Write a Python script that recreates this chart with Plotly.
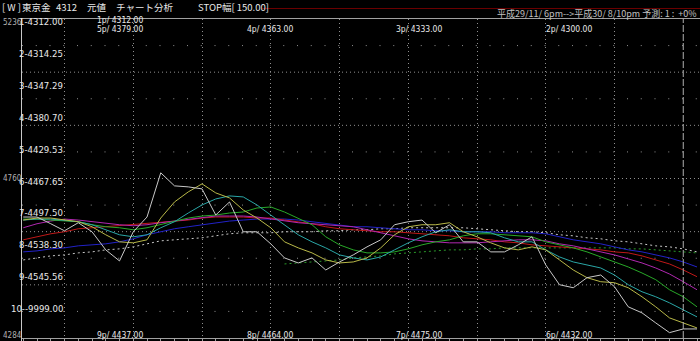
import plotly.graph_objects as go

# ---------------- data ----------------
x_idx = list(range(50))

price = [4645, 4645, 4625, 4604, 4628, 4601, 4547, 4514, 4601, 4645,
         4777, 4738, 4735, 4729, 4651, 4690, 4601, 4601, 4565, 4523,
         4508, 4523, 4487, 4511, 4532, 4556, 4577, 4622, 4631, 4636,
         4598, 4622, 4571, 4571, 4541, 4541, 4562, 4586, 4502, 4443,
         4434, 4464, 4472, 4437, 4377, 4359, 4329, 4300, 4311, 4311]

ma_yellow = [4636, 4642, 4642, 4636, 4631, 4616, 4592, 4571, 4568, 4577,
             4642, 4690, 4720, 4744, 4717, 4702, 4666, 4642, 4613, 4571,
             4553, 4538, 4517, 4508, 4511, 4523, 4553, 4592, 4616, 4622,
             4622, 4628, 4601, 4586, 4568, 4553, 4547, 4556, 4547, 4517,
             4487, 4464, 4452, 4449, 4434, 4407, 4377, 4344, 4329, 4314]

ma_cyan = [4636, 4639, 4639, 4636, 4631, 4622, 4607, 4592, 4586, 4592,
           4613, 4631, 4657, 4681, 4699, 4708, 4705, 4681, 4651, 4622,
           4592, 4571, 4553, 4532, 4523, 4517, 4526, 4547, 4568, 4586,
           4601, 4607, 4601, 4601, 4598, 4583, 4571, 4571, 4547, 4526,
           4511, 4502, 4493, 4472, 4443, 4422, 4407, 4389, 4368, 4347]

ma_green = [4639, 4639, 4636, 4633, 4631, 4622, 4616, 4613, 4607, 4613,
            4622, 4631, 4642, 4648, 4651, 4657, 4660, 4672, 4675, 4660,
            4642, 4622, 4586, 4562, 4547, 4538, 4538, 4541, 4550, 4562,
            4571, 4577, 4589, 4595, 4595, 4592, 4589, 4586, 4571, 4562,
            4553, 4541, 4526, 4511, 4496, 4478, 4458, 4428, 4407, 4377]

ma_magenta = [4613, 4625, 4633, 4639, 4636, 4631, 4625, 4622, 4619, 4622,
              4628, 4633, 4639, 4645, 4648, 4648, 4648, 4645, 4639, 4633,
              4628, 4625, 4622, 4619, 4616, 4607, 4598, 4589, 4580, 4574,
              4571, 4568, 4568, 4568, 4571, 4574, 4577, 4577, 4574, 4565,
              4559, 4550, 4541, 4532, 4520, 4508, 4493, 4475, 4452, 4428]

ma_red = [4577, 4586, 4595, 4601, 4610, 4613, 4616, 4619, 4622, 4625,
          4628, 4633, 4636, 4642, 4645, 4645, 4645, 4642, 4642, 4636,
          4631, 4625, 4616, 4610, 4607, 4604, 4601, 4601, 4598, 4595,
          4592, 4589, 4583, 4580, 4577, 4571, 4568, 4562, 4559, 4556,
          4553, 4550, 4547, 4541, 4538, 4529, 4517, 4505, 4487, 4467]

ma_blue = [4541, 4544, 4550, 4553, 4559, 4562, 4565, 4571, 4580, 4592,
           4601, 4610, 4616, 4622, 4628, 4633, 4636, 4639, 4639, 4639,
           4636, 4631, 4625, 4619, 4616, 4616, 4613, 4610, 4607, 4607,
           4604, 4604, 4601, 4601, 4601, 4598, 4598, 4598, 4595, 4586,
           4577, 4571, 4565, 4556, 4547, 4541, 4532, 4523, 4511, 4496]

ma_white_dot = [4517, 4523, 4529, 4532, 4538, 4541, 4547, 4550, 4556, 4565,
                4574, 4577, 4580, 4583, 4589, 4595, 4598, 4598, 4598, 4601,
                4601, 4601, 4604, 4604, 4607, 4607, 4610, 4610, 4613, 4613,
                4613, 4613, 4613, 4610, 4607, 4604, 4601, 4601, 4598, 4592,
                4589, 4583, 4580, 4574, 4571, 4565, 4559, 4556, 4550, 4541]

ma_green_dot = [None] * 19 + [4505, 4508, 4511, 4514, 4517, 4523, 4526, 4529, 4535, 4538,
                              4541, 4544, 4547, 4547, 4550, 4550, 4553, 4553, 4553, 4553,
                              4553, 4553, 4553, 4553, 4553, 4550, 4550, 4547, 4544, 4541,
                              4538]

y_min, y_max = 4284, 5236
y_tick_vals = [5236, 4760, 4284]

level_labels = ["1-4312.00", "2-4314.25", "3-4347.29", "4-4380.70", "5-4429.53",
                "6-4467.65", "7-4497.50", "8-4538.30", "9-4545.56", "10--9999.00"]
top_labels_row1 = ["1p/ 4312.00"]
top_labels_row2 = ["5p/ 4379.00", "4p/ 4363.00", "3p/ 4333.00", "2p/ 4300.00"]
bottom_labels = ["9p/ 4437.00", "8p/ 4464.00", "7p/ 4475.00", "6p/ 4432.00"]

header_parts = ["[ W ]", "東京金", "4312", "元値", "チャート分析", "STOP幅[ 150.00]"]
period_text = "平成29/11/ 6pm-->平成30/ 8/10pm 予測: 1 :  +0%"

# ---------------- geometry helpers ----------------
W, H = 700, 341
ML, MR, MT, MB = 22, 0, 19, 3
PW, PH = W - ML - MR, H - MT - MB


def px(p):
    return (p - ML) / PW


def py(p):
    return (H - MB - p) / PH


NARROW = "Liberation Sans Narrow, DejaVu Sans Condensed, Arial Narrow, DejaVu Sans Mono"
CJK = "Liberation Sans Narrow, Noto Sans CJK JP"

fig = go.Figure()

series = [
    (ma_white_dot, "#c8c8c8", "2px,3px"),
    (ma_green_dot, "#2a9a2a", "2px,3px"),
    (ma_blue, "#2222c8", "solid"),
    (ma_red, "#c01818", "solid"),
    (ma_magenta, "#b028b0", "solid"),
    (ma_green, "#28a828", "solid"),
    (ma_cyan, "#2aa6a6", "solid"),
    (ma_yellow, "#b8b848", "solid"),
    (price, "#c8c8c8", "solid"),
]
for vals, col, dash in series:
    fig.add_trace(go.Scatter(x=x_idx, y=vals, mode="lines",
                             line=dict(color=col, width=1, dash=dash),
                             hoverinfo="skip", showlegend=False, connectgaps=False))

shapes = []
# horizontal grid lines: 12 divisions, alternating dot densities
step = (y_max - y_min) / 12
for k in range(1, 12):
    yv = y_max - step * k
    dash = "1px,12.75px" if k % 2 == 1 else "1px,3px"
    shapes.append(dict(type="line", xref="paper", yref="y", x0=0, x1=1, y0=yv, y1=yv,
                       line=dict(color="#909090", width=1, dash=dash), layer="below"))
# current-position dashed marker
shapes.append(dict(type="line", xref="x", yref="paper", x0=48, x1=48, y0=0, y1=1,
                   line=dict(color="#b0b0b0", width=1, dash="7px,2px"), layer="above"))
# header red rule
shapes.append(dict(type="line", xref="paper", yref="paper", x0=px(262), x1=1,
                   y0=py(8.5), y1=py(8.5), line=dict(color="#6a0000", width=1)))
# left frame extends to bottom of window
shapes.append(dict(type="line", xref="paper", yref="paper", x0=px(21.5), x1=px(21.5),
                   y0=py(341), y1=py(18), line=dict(color="#c8c8c8", width=1)))

ann = []
lab_font = dict(family=NARROW, size=9.5, color="#e8e8e8")
small_font = dict(family=NARROW, size=8.5, color="#e8e8e8")
for k, t in enumerate(level_labels):
    ann.append(dict(text=t, x=px(64), y=py(21.5 + 31.9 * k), xref="paper", yref="paper",
                    xanchor="right", yanchor="middle", showarrow=False, font=lab_font,
                    borderpad=0))

label_x = [96, 246, 395, 545]
for t in top_labels_row1:
    ann.append(dict(text=t, x=px(label_x[0]), y=py(20.5), xref="paper", yref="paper",
                    xanchor="left", yanchor="middle", showarrow=False, font=small_font,
                    borderpad=0))
for t, xp in zip(top_labels_row2, label_x):
    ann.append(dict(text=t, x=px(xp), y=py(29), xref="paper", yref="paper",
                    xanchor="left", yanchor="middle", showarrow=False, font=small_font,
                    borderpad=0))
for t, xp in zip(bottom_labels, label_x):
    ann.append(dict(text=t, x=px(xp), y=py(335), xref="paper", yref="paper",
                    xanchor="left", yanchor="middle", showarrow=False, font=small_font,
                    borderpad=0))

# left value labels
axis_font = dict(family=NARROW, size=8, color="#b0b0b0")
for v, yp in zip(y_tick_vals, [22, 178, 335]):
    ann.append(dict(text=str(v), x=px(1.5), y=py(yp), xref="paper", yref="paper",
                    xanchor="left", yanchor="middle", showarrow=False, font=axis_font,
                    borderpad=0))

# header
head_x = [1, 21, 55, 86, 115, 197]
for t, xp in zip(header_parts, head_x):
    ann.append(dict(text=t, x=px(xp), y=py(6.5), xref="paper", yref="paper",
                    xanchor="left", yanchor="middle", showarrow=False, borderpad=0,
                    font=dict(family=CJK, size=9.5, color="#e8e8e8")))
ann.append(dict(text=period_text, x=px(698), y=py(13.5), xref="paper", yref="paper",
                xanchor="right", yanchor="middle", showarrow=False, borderpad=0,
                font=dict(family=CJK, size=9, color="#c0c0c0")))

fig.update_layout(
    width=W, height=H,
    margin=dict(l=ML, r=MR, t=MT, b=MB, pad=0),
    paper_bgcolor="black", plot_bgcolor="black",
    showlegend=False,
    xaxis=dict(range=[-0.0909, 49.218], tickmode="array", tickvals=list(range(3, 44, 5)),
               showgrid=True, gridcolor="#909090", griddash="1px,3px", gridwidth=1,
               showticklabels=False, zeroline=False,
               showline=True, linecolor="#a0a0a0", linewidth=1, mirror=True,
               ticks="outside", ticklen=3, tickcolor="#a0a0a0",
               minor=dict(tickmode="linear", tick0=0, dtick=1, ticks="outside",
                          ticklen=2, tickcolor="#a0a0a0", showgrid=False)),
    yaxis=dict(range=[y_min, y_max], showgrid=False, showticklabels=False,
               zeroline=False, showline=False),
    shapes=shapes,
    annotations=ann,
)

fig.write_html("out.html")
